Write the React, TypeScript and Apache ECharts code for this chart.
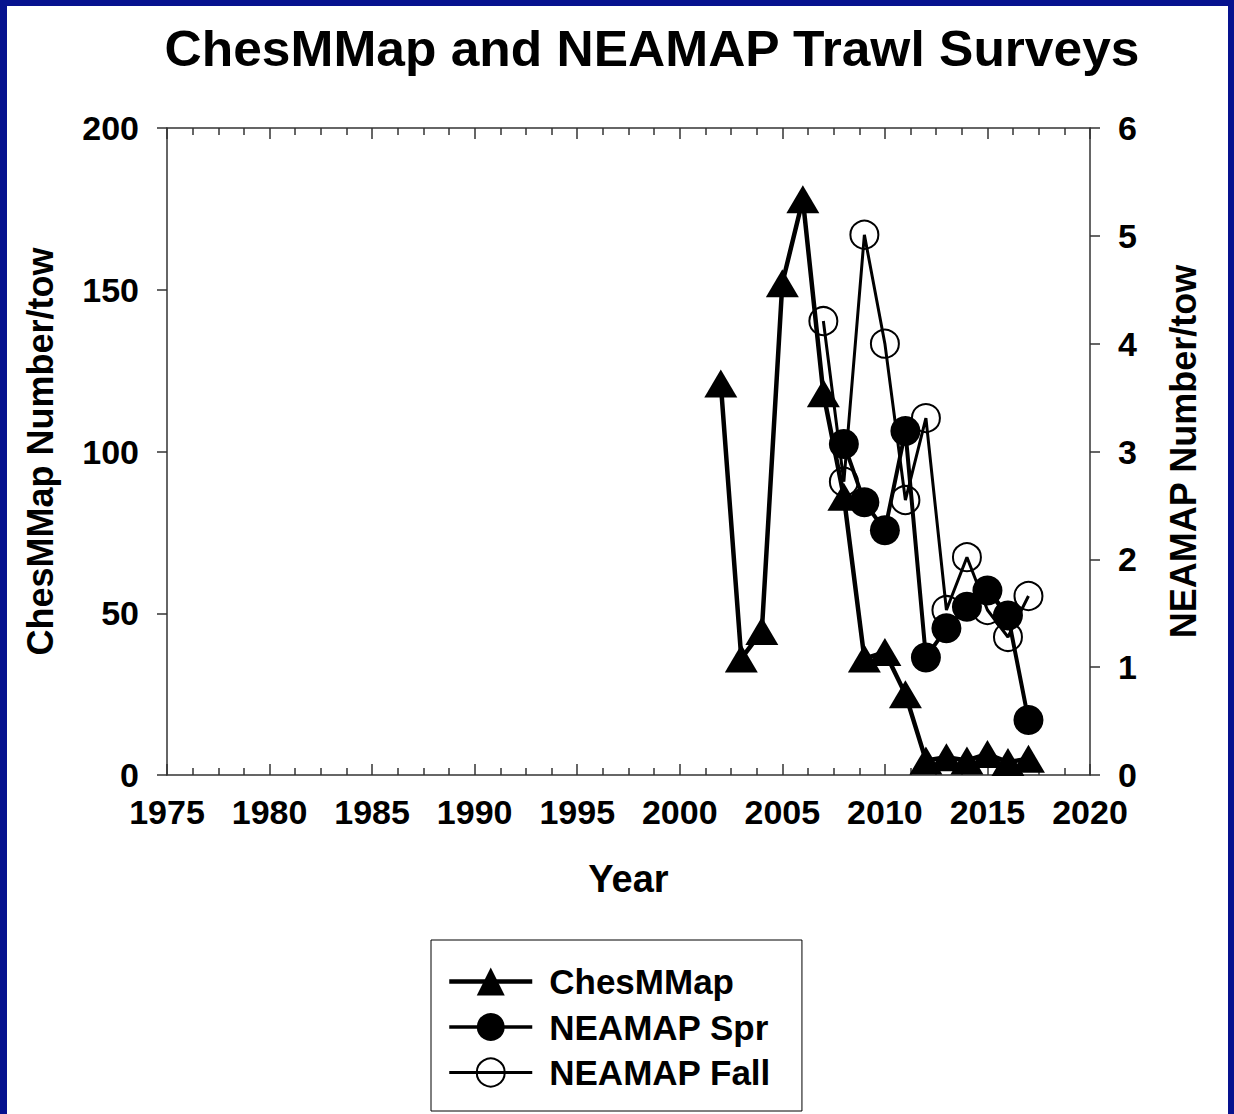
import React, { useEffect, useRef } from "react";
import * as echarts from "echarts";

const FONT = "'Liberation Sans', Arial, Helvetica, sans-serif";

const chesYears = [2002, 2003, 2004, 2005, 2006, 2007, 2008, 2009, 2010, 2011, 2012, 2013, 2014, 2015, 2016, 2017];
const chesValues = [121, 36, 44.5, 152, 178, 118, 86, 36, 38, 25, 4.5, 5.5, 4.5, 6.5, 4, 5];

const sprYears = [2008, 2009, 2010, 2011, 2012, 2013, 2014, 2015, 2016, 2017];
const sprValues = [3.07, 2.53, 2.27, 3.19, 1.09, 1.36, 1.56, 1.71, 1.48, 0.51];

const fallYears = [2007, 2008, 2009, 2010, 2011, 2012, 2013, 2014, 2015, 2016, 2017];
const fallValues = [4.21, 2.72, 5.01, 4.0, 2.55, 3.31, 1.53, 2.02, 1.53, 1.28, 1.66];

const seriesNames = ["ChesMMap", "NEAMAP Spr", "NEAMAP Fall"];
const titleText = "ChesMMap and NEAMAP Trawl Surveys";
const xAxisName = "Year";
const leftAxisName = "ChesMMap Number/tow";
const rightAxisName = "NEAMAP Number/tow";

const zip = (xs: number[], ys: number[]) => xs.map((x, i) => [x, ys[i]]);

export default function App() {
  const ref = useRef<HTMLDivElement>(null);
  useEffect(() => {
    document.body.style.margin = "0";
    if (!ref.current) return;
    const chart = echarts.init(ref.current, null, { renderer: "svg" });
    const axisLine = { show: true, onZero: false, lineStyle: { color: "#333", width: 1.5 } };
    const tickLabel = { fontFamily: FONT, fontWeight: "bold", fontSize: 34, color: "#000" };
    const xCommon = {
      type: "value",
      min: 1975,
      max: 2020,
      interval: 5,
      splitLine: { show: false },
      axisLine,
      axisTick: { show: true, inside: true, length: 11, lineStyle: { color: "#333", width: 1.5 } },
      minorTick: { show: true, splitNumber: 4, length: 7, lineStyle: { color: "#333", width: 1.5 } },
    };
    chart.setOption({
      animation: false,
      backgroundColor: "#fff",
      graphic: [
        { type: "rect", shape: { x: 0, y: 0, width: 1234, height: 6 }, style: { fill: "#06128f" }, z: 100 },
        { type: "rect", shape: { x: 0, y: 0, width: 7, height: 1114 }, style: { fill: "#06128f" }, z: 100 },
        { type: "rect", shape: { x: 1228, y: 0, width: 6, height: 1114 }, style: { fill: "#06128f" }, z: 100 },
        {
          type: "text",
          x: 652,
          y: 49,
          scaleX: 1.03,
          style: {
            text: titleText,
            fontFamily: FONT,
            fontWeight: "bold",
            fontSize: 50,
            fill: "#000",
            align: "center",
            verticalAlign: "middle",
          },
        },
      ],
      grid: { left: 167, top: 128, width: 923, height: 647, containLabel: false },
      xAxis: [
        {
          ...xCommon,
          position: "bottom",
          name: xAxisName,
          nameLocation: "middle",
          nameGap: 85,
          nameTextStyle: { fontFamily: FONT, fontWeight: "bold", fontSize: 38, color: "#000" },
          axisLabel: { ...tickLabel, margin: 20, formatter: (v: number) => String(v) },
        },
        {
          ...xCommon,
          position: "top",
          axisLabel: { show: false },
        },
      ],
      yAxis: [
        {
          type: "value",
          position: "left",
          min: 0,
          max: 200,
          interval: 50,
          splitLine: { show: false },
          axisLine,
          axisTick: { show: true, inside: false, length: 10, lineStyle: { color: "#333", width: 1.5 } },
          axisLabel: { ...tickLabel, margin: 28 },
          name: leftAxisName,
          nameLocation: "middle",
          nameGap: 109,
          nameTextStyle: { fontFamily: FONT, fontWeight: "bold", fontSize: 36, color: "#000" },
        },
        {
          type: "value",
          position: "right",
          min: 0,
          max: 6,
          interval: 1,
          splitLine: { show: false },
          axisLine,
          axisTick: { show: true, inside: false, length: 10, lineStyle: { color: "#333", width: 1.5 } },
          axisLabel: { ...tickLabel, margin: 28 },
          name: rightAxisName,
          nameLocation: "middle",
          nameGap: 75,
          nameRotate: 90,
          nameTextStyle: { fontFamily: FONT, fontWeight: "bold", fontSize: 36, color: "#000" },
        },
      ],
      legend: {
        orient: "vertical",
        left: 431,
        top: 940,
        padding: [24, 31, 21, 16],
        borderColor: "#000",
        borderWidth: 1,
        itemWidth: 83,
        itemHeight: 35,
        itemGap: 10.5,
        textStyle: { fontFamily: FONT, fontWeight: "bold", fontSize: 35, color: "#000", lineHeight: 35, padding: [0, 0, 0, 12] },
        data: [
          { name: seriesNames[0], lineStyle: { width: 4.5 }, itemStyle: { borderWidth: 0 } },
          { name: seriesNames[1], lineStyle: { width: 3.5 }, itemStyle: { borderWidth: 0 } },
          { name: seriesNames[2], lineStyle: { width: 3 }, itemStyle: { borderWidth: 2, borderColor: "#000", color: "rgba(0,0,0,0)" } },
        ],
      },
      series: [
        {
          name: seriesNames[2],
          type: "line",
          xAxisIndex: 0,
          yAxisIndex: 1,
          data: zip(fallYears, fallValues),
          symbol: "circle",
          symbolSize: 28,
          itemStyle: { color: "rgba(0,0,0,0)", borderColor: "#000", borderWidth: 2 },
          lineStyle: { color: "#000", width: 3 },
          z: 2,
        },
        {
          name: seriesNames[1],
          type: "line",
          xAxisIndex: 0,
          yAxisIndex: 1,
          data: zip(sprYears, sprValues),
          symbol: "circle",
          symbolSize: 30,
          itemStyle: { color: "#000", borderWidth: 0 },
          lineStyle: { color: "#000", width: 4 },
          z: 3,
        },
        {
          name: seriesNames[0],
          type: "line",
          xAxisIndex: 0,
          yAxisIndex: 0,
          data: zip(chesYears, chesValues),
          symbol: "triangle",
          symbolSize: [33, 28],
          itemStyle: { color: "#000", borderWidth: 0 },
          lineStyle: { color: "#000", width: 4.5 },
          z: 4,
        },
      ],
    });
    return () => chart.dispose();
  }, []);
  return <div ref={ref} style={{ width: 1234, height: 1114 }} />;
}
